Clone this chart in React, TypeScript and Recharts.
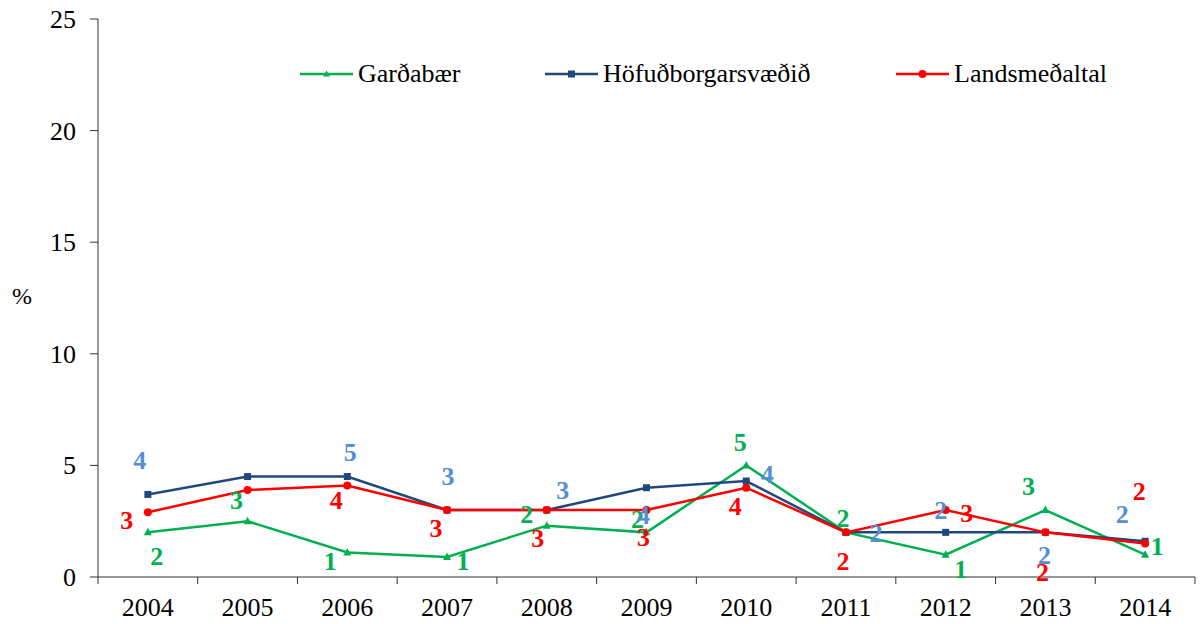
import { LineChart, Line, XAxis, YAxis, LabelList } from 'recharts'

const years = ['2004', '2005', '2006', '2007', '2008', '2009', '2010', '2011', '2012', '2013', '2014']
const gardabaer = [2.0, 2.5, 1.1, 0.9, 2.3, 2.0, 5.0, 2.0, 1.0, 3.0, 1.0]
const hofudborg = [3.7, 4.5, 4.5, 3.0, 3.0, 4.0, 4.3, 2.0, 2.0, 2.0, 1.6]
const landsmedaltal = [2.9, 3.9, 4.1, 3.0, 3.0, 3.0, 4.0, 2.0, 3.0, 2.0, 1.5]
const yTicks = [0, 5, 10, 15, 20, 25]

// label centre relative to the point (dx, dy); null = no label shown
type Off = [number, number] | null
const gardOffsets: Off[] = [[9, 24], [-11, -21], [-17, 9], [16, 4], [-20, -12], [-9, -13], [-6, -23], [-3, -14], [15, 14], [-17, -24], [12, -9]]
const hofOffsets: Off[] = [[-8, -34], null, [3, -25], [1, -34], [16, -20], [-3, 27], [21, -7], [30, 1], [-5, -22], [-1, 23], [-23, -27]]
const landsOffsets: Off[] = [[-21, 8], null, [-11, 15], [-11, 18], [-9, 28], [-3, 27], [-11, 18], [-3, 29], [21, 3], [-3, 40], [-6, -53]]

const GREEN = '#00B050'
const NAVY = '#1F497D'
const BLUE_LABEL = '#558ED5'
const RED = '#FF0000'
const FONT = "'Liberation Serif', 'Times New Roman', serif"

const data = years.map((year, i) => ({
  year,
  gardabaer: gardabaer[i],
  hofudborg: hofudborg[i],
  landsmedaltal: landsmedaltal[i],
}))

const makeLabel = (offsets: Off[], color: string) => (props: any) => {
  const { x, y, value, index } = props
  const off = offsets[index]
  if (!off) return null
  return (
    <text
      key={index}
      x={x + off[0]}
      y={y + off[1] + 9}
      textAnchor="middle"
      fill={color}
      style={{ fontFamily: FONT, fontWeight: 'bold', fontSize: 26 }}
    >
      {Math.round(value)}
    </text>
  )
}

const TriangleDot = (props: any) => {
  const { cx, cy, index } = props
  return <path key={index} d={`M${cx},${cy - 4.5} L${cx + 4},${cy + 3} L${cx - 4},${cy + 3} Z`} fill={GREEN} />
}

const SquareDot = (props: any) => {
  const { cx, cy, index } = props
  return <rect key={index} x={cx - 3.5} y={cy - 3.5} width={7} height={7} fill={NAVY} />
}

const CircleDot = (props: any) => {
  const { cx, cy, index } = props
  return <circle key={index} cx={cx} cy={cy} r={4} fill={RED} />
}

const XTick = (props: any) => {
  const { x, y, payload, index } = props
  const half = payload.offset || 49.9
  return (
    <g>
      <line x1={x - half} x2={x - half} y1={y} y2={y + 7} stroke="#333" />
      {index === years.length - 1 && <line x1={x + half} x2={x + half} y1={y} y2={y + 7} stroke="#333" />}
      <text x={x} y={y + 39} textAnchor="middle" fill="#000" style={{ fontFamily: FONT, fontSize: 26 }}>
        {payload.value}
      </text>
    </g>
  )
}

const YTick = (props: any) => {
  const { x, y, payload } = props
  return (
    <text x={x} y={y + 9} textAnchor="end" fill="#000" style={{ fontFamily: FONT, fontSize: 26 }}>
      {payload.value}
    </text>
  )
}

const legendItems = [
  { name: 'Garðabær', color: GREEN, left: 300, shape: 'tri' },
  { name: 'Höfuðborgarsvæðið', color: NAVY, left: 545, shape: 'sq' },
  { name: 'Landsmeðaltal', color: RED, left: 896, shape: 'circ' },
]

export default function App() {
  return (
    <div style={{ position: 'absolute', left: 0, top: 0, width: 1200, height: 624, background: '#fff' }}>
      <LineChart width={1200} height={624} data={data} margin={{ top: 19, right: 5, left: 0, bottom: 0 }}>
        <XAxis
          dataKey="year"
          scale="band"
          height={47}
          axisLine={{ stroke: '#333' }}
          tickLine={false}
          tickSize={0}
          tickMargin={0}
          tick={<XTick />}
          interval={0}
        />
        <YAxis
          width={98}
          domain={[0, 25]}
          ticks={yTicks}
          axisLine={{ stroke: '#333' }}
          tickLine={{ stroke: '#333' }}
          tickSize={8}
          tickMargin={14}
          tick={<YTick />}
        />
        <Line dataKey="gardabaer" stroke={GREEN} strokeWidth={2.5} dot={TriangleDot} isAnimationActive={false}>
          <LabelList dataKey="gardabaer" content={makeLabel(gardOffsets, GREEN)} />
        </Line>
        <Line dataKey="hofudborg" stroke={NAVY} strokeWidth={2.5} dot={SquareDot} isAnimationActive={false}>
          <LabelList dataKey="hofudborg" content={makeLabel(hofOffsets, BLUE_LABEL)} />
        </Line>
        <Line dataKey="landsmedaltal" stroke={RED} strokeWidth={2.5} dot={CircleDot} isAnimationActive={false}>
          <LabelList dataKey="landsmedaltal" content={makeLabel(landsOffsets, RED)} />
        </Line>
      </LineChart>
      <div style={{ position: 'absolute', left: 12, top: 282, fontFamily: FONT, fontSize: 24, lineHeight: '28px' }}>%</div>
      {legendItems.map((item) => (
        <div
          key={item.name}
          style={{ position: 'absolute', left: item.left, top: 58, height: 32, display: 'flex', alignItems: 'center' }}
        >
          <svg width={53} height={12} style={{ display: 'block' }}>
            <line x1={0} x2={53} y1={6} y2={6} stroke={item.color} strokeWidth={2.5} />
            {item.shape === 'tri' && <path d="M26.5,2.5 L30,8.5 L23,8.5 Z" fill={item.color} />}
            {item.shape === 'sq' && <rect x={23} y={2.5} width={7} height={7} fill={item.color} />}
            {item.shape === 'circ' && <circle cx={26.5} cy={6} r={4} fill={item.color} />}
          </svg>
          <span style={{ marginLeft: 5, fontFamily: FONT, fontSize: 26, color: '#000', lineHeight: '32px' }}>
            {item.name}
          </span>
        </div>
      ))}
    </div>
  )
}
